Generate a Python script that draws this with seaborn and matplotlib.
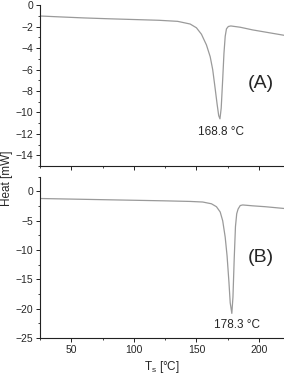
import numpy as np
import pandas as pd
import matplotlib
matplotlib.use("Agg")
import matplotlib.pyplot as plt
from matplotlib.ticker import MultipleLocator
import seaborn as sns

# Estilo base
sns.set_style("ticks")
plt.rcParams["font.family"] = ["Liberation Sans", "DejaVu Sans"]

# Datos (A)
temp_a = [25, 40, 60, 80, 100, 120, 135, 145, 150, 154, 158, 161, 163, 165,
          166.5, 167.8, 168.8, 169.8, 171, 172, 173, 174, 175.5, 177.5, 185,
          195, 205, 215, 220]
heat_a = [-1.0, -1.08, -1.18, -1.26, -1.33, -1.4, -1.5, -1.75, -2.1, -2.7, -3.7,
          -4.8, -6.0, -7.8, -9.2, -10.3, -10.6, -9.6, -6.9, -4.5, -2.9, -2.2,
          -1.98, -1.93, -2.05, -2.3, -2.5, -2.7, -2.8]

# Datos (B)
temp_b = [25, 50, 75, 100, 125, 145, 155, 162, 166, 169, 171, 173, 174.5, 176,
          177, 178.3, 179.2, 180.2, 181.2, 182.2, 183.3, 185, 187, 195, 205,
          215, 220]
heat_b = [-1.2, -1.3, -1.4, -1.5, -1.6, -1.7, -1.8, -2.1, -2.6, -3.5, -5.0,
          -7.8, -11.0, -15.5, -19.0, -20.8, -18.0, -11.5, -6.0, -3.8, -3.0,
          -2.4, -2.3, -2.45, -2.6, -2.8, -2.9]

peaks = ["168.8 °C", "178.3 °C"]
panel_labels = ["(A)", "(B)"]

df_a = pd.DataFrame({"T": temp_a, "Heat": heat_a})
df_b = pd.DataFrame({"T": temp_b, "Heat": heat_b})

fig = plt.figure(figsize=(2.84, 3.77), dpi=100)
ax1 = fig.add_axes([0.141, 0.5597, 0.859, 0.4263])
ax2 = fig.add_axes([0.141, 0.1034, 0.859, 0.4276], sharex=ax1)

line_color = "#9a9a9a"
sns.lineplot(data=df_a, x="T", y="Heat", ax=ax1, color=line_color, lw=0.9, sort=False)
sns.lineplot(data=df_b, x="T", y="Heat", ax=ax2, color=line_color, lw=0.9, sort=False)

ax1.set_ylim(-15, 0)
ax2.set_ylim(-25, 2.5)
ax1.set_xlim(25, 220)

ax1.yaxis.set_major_locator(MultipleLocator(2))
ax1.yaxis.set_minor_locator(MultipleLocator(1))
ax2.yaxis.set_major_locator(MultipleLocator(5))
ax2.yaxis.set_minor_locator(MultipleLocator(2.5))
ax1.xaxis.set_major_locator(MultipleLocator(50))
ax1.xaxis.set_minor_locator(MultipleLocator(25))

for ax in (ax1, ax2):
    sns.despine(ax=ax)
    for s in ("left", "bottom"):
        ax.spines[s].set_linewidth(0.8)
        ax.spines[s].set_color("#222222")
    ax.tick_params(which="major", direction="out", length=2.6, width=0.7,
                   labelsize=7.5, pad=2.2, color="#222222")
    ax.tick_params(which="minor", direction="out", length=1.6, width=0.6,
                   color="#222222")
    ax.set_xlabel("")
    ax.set_ylabel("")

ax1.tick_params(axis="x", labelbottom=False)

ax1.text(169.6, -11.8, peaks[0], ha="center", va="center", fontsize=8.5)
ax2.text(182.5, -22.8, peaks[1], ha="center", va="center", fontsize=8.5)
ax1.text(201.8, -7.3, panel_labels[0], ha="center", va="center", fontsize=14)
ax2.text(201.8, -11.3, panel_labels[1], ha="center", va="center", fontsize=14)

ax2.set_xlabel("T$_\\mathregular{s}$ [°C]", fontsize=8.5, labelpad=3)
fig.text(0.025, 0.528, "Heat [mW]", rotation=90, ha="center", va="center", fontsize=8.5)

fig.savefig("out.png", dpi=100)
